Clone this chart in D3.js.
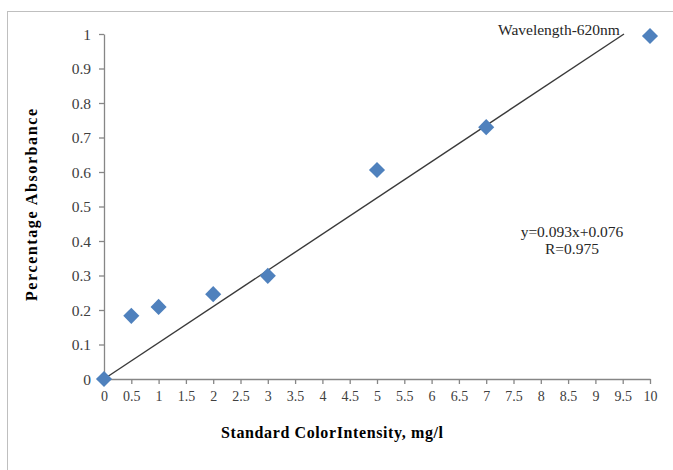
<!DOCTYPE html>
<html>
<head>
<meta charset="utf-8">
<script src="https://cdn.jsdelivr.net/npm/d3@7/dist/d3.min.js"></script>
<style>
  html, body { margin: 0; padding: 0; background: #fff; }
  svg { display: block; }
</style>
</head>
<body>
<svg id="chart" width="673" height="470"></svg>
<script>
// Calibration measurements: concentration (mg/l) vs. absorbance
const concentration = [0, 0.5, 1, 2, 3, 5, 7, 10];
const absorbance    = [0, 0.183, 0.209, 0.246, 0.299, 0.606, 0.730, 0.994];

const xTicks = [0, 0.5, 1, 1.5, 2, 2.5, 3, 3.5, 4, 4.5, 5, 5.5, 6, 6.5, 7, 7.5, 8, 8.5, 9, 9.5, 10];
const yTicks = [0, 0.1, 0.2, 0.3, 0.4, 0.5, 0.6, 0.7, 0.8, 0.9, 1];

// Linear trendline forced through the origin
const trendSlope = 0.105;
const trendIntercept = 0;

const equationLines = ["y=0.093x+0.076", "R=0.975"];
const wavelengthLabel = "Wavelength-620nm";

const svg = d3.select("#chart");
const font = "'Liberation Serif', 'Times New Roman', serif";

// Chart frame
svg.append("rect")
  .attr("x", 7.5).attr("y", 11.5)
  .attr("width", 700).attr("height", 500)
  .attr("fill", "#fff").attr("stroke", "#bfbfbf").attr("stroke-width", 1);

const plot = { left: 104, right: 650, top: 34, bottom: 379 };

const x = d3.scaleLinear().domain([0, 10]).range([plot.left, plot.right]);
const y = d3.scaleLinear().domain([0, 1]).range([plot.bottom, plot.top]);

// Axes
const xAxis = d3.axisBottom(x).tickValues(xTicks).tickSize(5).tickSizeOuter(0)
  .tickFormat(d => String(d));
const yAxis = d3.axisLeft(y).tickValues(yTicks).tickSize(5).tickSizeOuter(0)
  .tickFormat(d => String(d));

const gx = svg.append("g").attr("transform", `translate(0,${plot.bottom})`).call(xAxis);
const gy = svg.append("g").attr("transform", `translate(${plot.left},0)`).call(yAxis);

[gx, gy].forEach(g => {
  g.select(".domain").attr("stroke", "#868686").attr("stroke-width", 1.3);
  g.selectAll(".tick line").attr("stroke", "#868686").attr("stroke-width", 1.3);
  g.selectAll(".tick text")
    .attr("fill", "#404040")
    .style("font-family", font);
});
gx.selectAll(".tick text").style("font-size", "14px").attr("dy", "1.0em");
gy.selectAll(".tick text").style("font-size", "15.5px").attr("x", -13).attr("dy", "0.35em");

// Trendline, clipped to the plot area
const xEnd = Math.min(10, (1 - trendIntercept) / trendSlope);
svg.append("line")
  .attr("x1", x(0)).attr("y1", y(trendIntercept))
  .attr("x2", x(xEnd)).attr("y2", y(trendSlope * xEnd + trendIntercept))
  .attr("stroke", "#3a3a3a").attr("stroke-width", 1.4);

// Diamond markers
const diamond = d3.symbol().type(d3.symbolDiamond2 || d3.symbolSquare).size(165);
svg.append("g").selectAll("path")
  .data(concentration.map((c, i) => [c, absorbance[i]]))
  .join("path")
  .attr("transform", d => `translate(${x(d[0])},${y(d[1])}) rotate(${d3.symbolDiamond2 ? 0 : 45})`)
  .attr("d", diamond)
  .attr("fill", "#4f81bd");

// Annotations
svg.append("text")
  .attr("x", 498).attr("y", 35)
  .style("font-family", font).style("font-size", "15.5px")
  .attr("fill", "#262626")
  .text(wavelengthLabel);

svg.append("g").selectAll("text")
  .data(equationLines)
  .join("text")
  .attr("x", 572).attr("y", (d, i) => 237 + i * 17)
  .attr("text-anchor", "middle")
  .style("font-family", font).style("font-size", "15.5px")
  .attr("fill", "#262626")
  .text(d => d);

// Axis titles
svg.append("text")
  .attr("transform", "translate(37,205) rotate(-90)")
  .attr("text-anchor", "middle")
  .style("font-family", font).style("font-size", "16px").style("font-weight", "bold")
  .attr("textLength", 192).attr("lengthAdjust", "spacing")
  .attr("fill", "#000")
  .text("Percentage Absorbance");

svg.append("text")
  .attr("x", 332).attr("y", 438)
  .attr("text-anchor", "middle")
  .style("font-family", font).style("font-size", "16px").style("font-weight", "bold")
  .attr("textLength", 222).attr("lengthAdjust", "spacing")
  .attr("fill", "#000")
  .text("Standard ColorIntensity, mg/l");
</script>
</body>
</html>
